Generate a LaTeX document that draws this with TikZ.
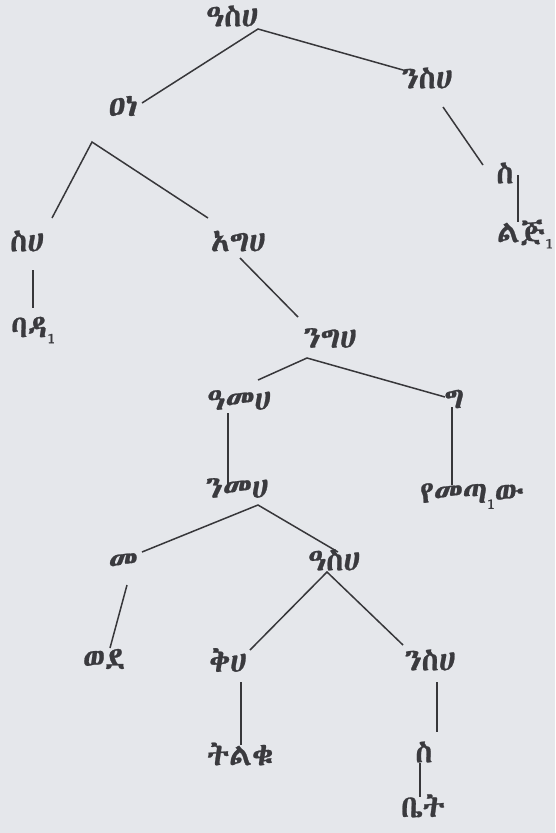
\documentclass[tikz,border=0pt]{standalone}
\usepackage{fontspec}
\newfontfamily\eth[FakeBold=0.8]{Abyssinica SIL}
\newcommand\subi[1]{\raisebox{-0.4ex}{\fontsize{15}{16}\selectfont #1}}
\definecolor{bgc}{RGB}{229,231,235}
\definecolor{txt}{RGB}{58,58,62}
\definecolor{lnc}{RGB}{55,55,58}
\begin{document}
\begin{tikzpicture}[x=1pt,y=-1pt,
  lbl/.style={text=txt, inner sep=0pt, font=\eth\fontsize{31}{35}\selectfont},
  edge/.style={draw=lnc, line width=1.5pt}]
\fill[bgc] (0,0) rectangle (555,833);
\useasboundingbox (0,0) rectangle (555,833);
% labels
\node[lbl] (n1)  at (232,16)  {ዓስሀ};
\node[lbl] (n2)  at (123,106) {ዐነ};
\node[lbl] (n3)  at (427,78)  {ንስሀ};
\node[lbl] (n4)  at (505,173) {ስ};
\node[lbl] (n5)  at (525,234) {ልጅ\subi{1}};
\node[lbl] (n6)  at (27,241)  {ስሀ};
\node[lbl] (n7)  at (238,241) {አግሀ};
\node[lbl] (n8)  at (33,330)  {ባዳ\subi{1}};
\node[lbl] (n9)  at (330,338) {ንግሀ};
\node[lbl] (n10) at (239,400) {ዓመሀ};
\node[lbl] (n11) at (454,399) {ግ};
\node[lbl] (n12) at (237,488) {ንመሀ};
\node[lbl] (n13) at (472,496) {የመጣ\subi{1}ው};
\node[lbl] (n14) at (123,562) {መ};
\node[lbl] (n15) at (334,560) {ዓስሀ};
\node[lbl] (n16) at (104,659) {ወደ};
\node[lbl] (n17) at (228,660) {ቅሀ};
\node[lbl] (n18) at (430,660) {ንስሀ};
\node[lbl] (n19) at (240,754) {ትልቁ};
\node[lbl] (n20) at (424,752) {ስ};
\node[lbl, text depth=0pt, anchor=base] (n21) at (423,817) {ቤት};
% connector end points
\coordinate (a1)  at (258,29);
\coordinate (e2)  at (142,103);
\coordinate (e3)  at (403,70);
\coordinate (s3)  at (443,107);
\coordinate (e4)  at (483,165);
\coordinate (s4)  at (518,175);
\coordinate (e5)  at (518,222);
\coordinate (a2)  at (92,142);
\coordinate (e6)  at (52,218);
\coordinate (e7)  at (208,218);
\coordinate (s6)  at (33,270);
\coordinate (e8)  at (33,308);
\coordinate (s7)  at (240,258);
\coordinate (e9)  at (298,317);
\coordinate (a9)  at (307,358);
\coordinate (e10) at (258,380);
\coordinate (e11) at (445,397);
\coordinate (s11) at (452,407);
\coordinate (e13) at (452,485);
\coordinate (s10) at (228,413);
\coordinate (e12) at (228,490);
\coordinate (a12) at (258,505);
\coordinate (e14) at (142,552);
\coordinate (e15) at (338,552);
\coordinate (s14) at (127,585);
\coordinate (e16) at (110,648);
\coordinate (a15) at (327,572);
\coordinate (e17) at (250,650);
\coordinate (e18) at (403,645);
\coordinate (s17) at (241,682);
\coordinate (e19) at (241,745);
\coordinate (s18) at (437,682);
\coordinate (e20) at (437,732);
\coordinate (s20) at (420,763);
\coordinate (e21) at (420,797);
% connectors
\draw[edge] (e2) -- (a1) -- (e3);
\draw[edge] (s3) -- (e4);
\draw[edge] (s4) -- (e5);
\draw[edge] (e6) -- (a2) -- (e7);
\draw[edge] (s6) -- (e8);
\draw[edge] (s7) -- (e9);
\draw[edge] (e10) -- (a9) -- (e11);
\draw[edge] (s11) -- (e13);
\draw[edge] (s10) -- (e12);
\draw[edge] (e14) -- (a12) -- (e15);
\draw[edge] (s14) -- (e16);
\draw[edge] (e17) -- (a15) -- (e18);
\draw[edge] (s17) -- (e19);
\draw[edge] (s18) -- (e20);
\draw[edge] (s20) -- (e21);
\end{tikzpicture}
\end{document}
